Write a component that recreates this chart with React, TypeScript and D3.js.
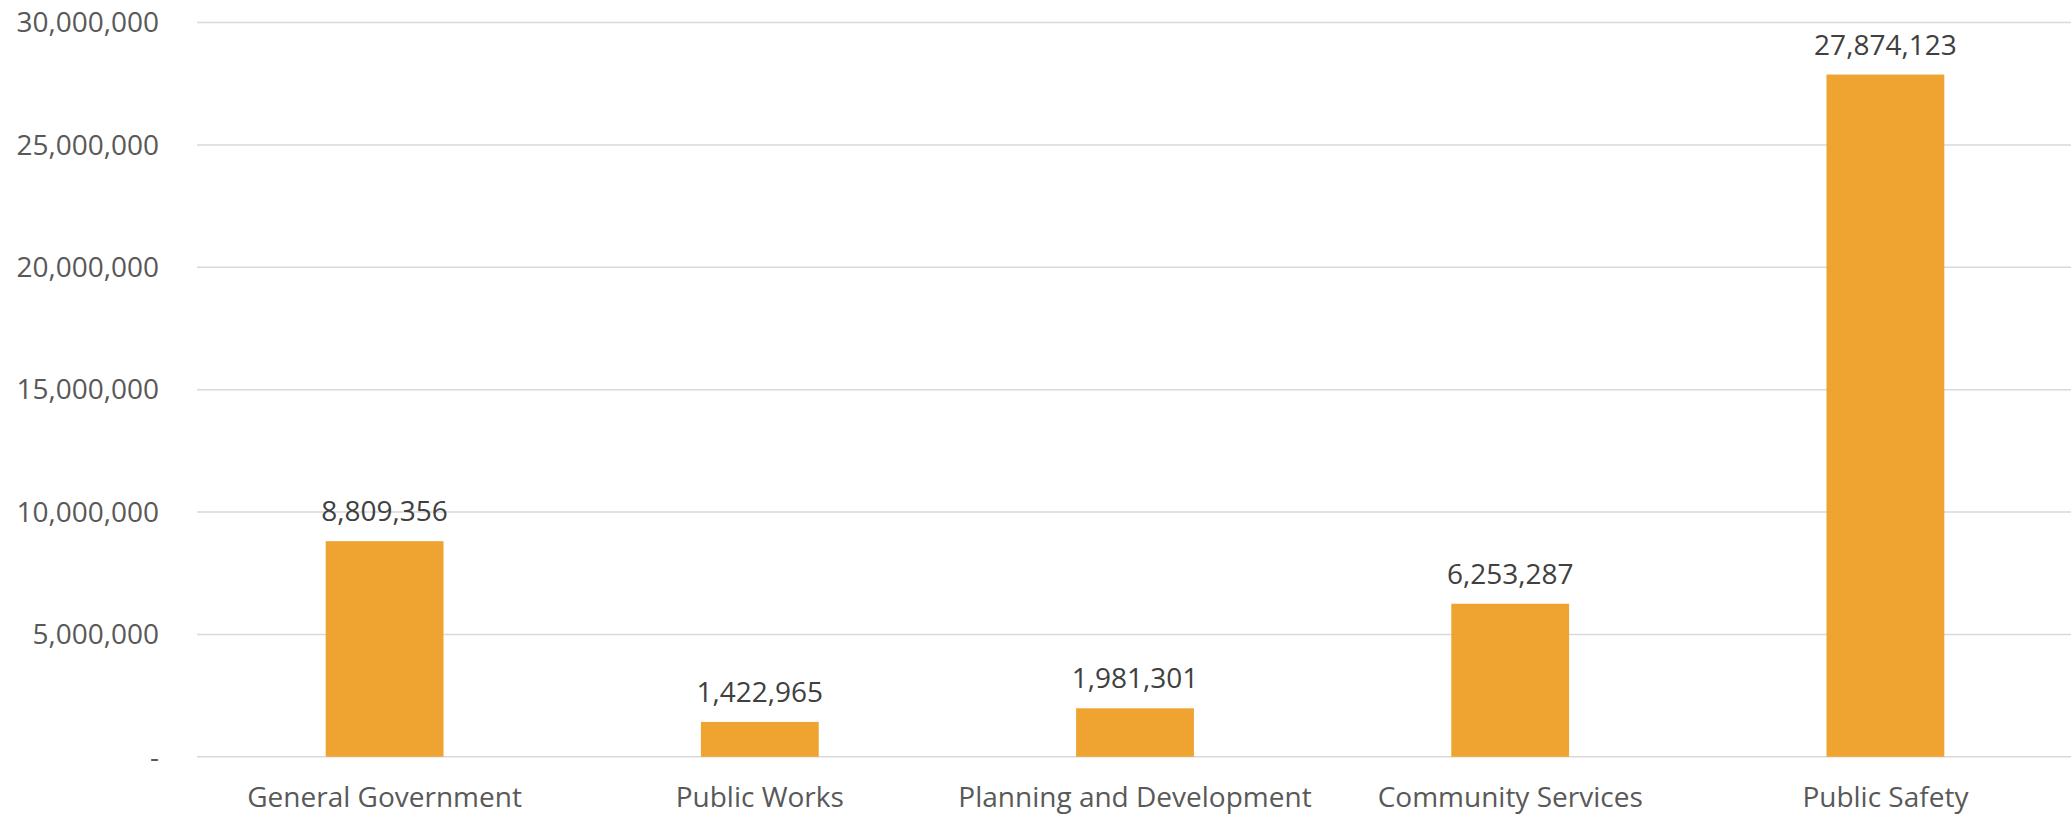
import React from "react";
import * as d3 from "d3";

const categories = ["General Government", "Public Works", "Planning and Development", "Community Services", "Public Safety"];
const values = [8809356, 1422965, 1981301, 6253287, 27874123];
const yTicks = [0, 5000000, 10000000, 15000000, 20000000, 25000000, 30000000];

const W = 2071;
const H = 816;
const left = 197;
const right = 2073;
const top = 22.5;
const bottom = 756.8;

export default function App() {
  const x = d3.scaleBand<string>().domain(categories).range([left, right]).paddingInner(0.686).paddingOuter(0.343);
  const y = d3.scaleLinear().domain([0, 30000000]).range([bottom, top]);
  const fmt = d3.format(",");
  const font = "'Open Sans', 'Noto Sans', sans-serif";
  return (
    <svg width={W} height={H} style={{ position: "absolute", left: 0, top: 0, background: "#fff" }}>
      {yTicks.map((t) => (
        <g key={t}>
          <line x1={left} x2={W} y1={y(t)} y2={y(t)} stroke="#d9d9d9" strokeWidth={1.5} />
          <text x={159} y={y(t)} dy="0.35em" textAnchor="end" fontFamily={font} fontSize={28} fill="#595959">
            {t === 0 ? "-" : fmt(t)}
          </text>
        </g>
      ))}
      {categories.map((c, i) => {
        const bx = x(c)!;
        const bw = x.bandwidth();
        const v = values[i];
        return (
          <g key={c}>
            <rect x={bx} y={y(v)} width={bw} height={y(0) - y(v)} fill="#EFA330" />
            <text x={bx + bw / 2} y={y(v) - 20} textAnchor="middle" fontFamily={font} fontSize={28} fill="#404040">
              {fmt(v)}
            </text>
            <text x={bx + bw / 2} y={807} textAnchor="middle" fontFamily={font} fontSize={28} fill="#595959">
              {c}
            </text>
          </g>
        );
      })}
    </svg>
  );
}
